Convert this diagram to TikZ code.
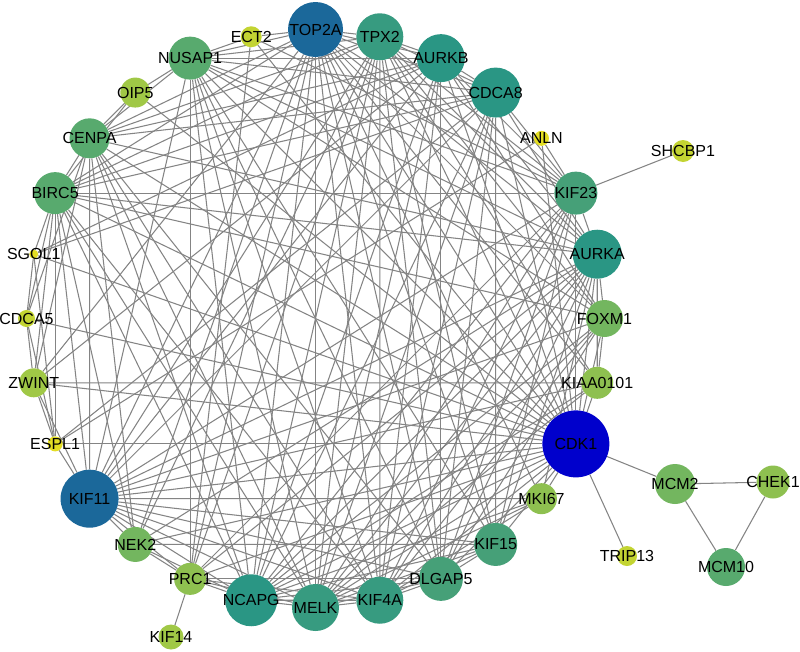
\documentclass[tikz,border=0pt]{standalone}
\usepackage{fontspec}
\setmainfont{Liberation Sans}
\usetikzlibrary{backgrounds,calc}
\definecolor{cTOP}{RGB}{27,104,154}
\definecolor{cCDK}{RGB}{0,0,204}
\definecolor{cTa}{RGB}{42,150,132}
\definecolor{cTb}{RGB}{55,155,128}
\definecolor{cTc}{RGB}{70,160,120}
\definecolor{cGa}{RGB}{88,170,110}
\definecolor{cGb}{RGB}{115,182,95}
\definecolor{cGc}{RGB}{142,192,80}
\definecolor{cGd}{RGB}{160,200,70}
\definecolor{cYG}{RGB}{195,212,50}
\definecolor{cY}{RGB}{228,222,35}
\definecolor{edgegray}{RGB}{132,132,132}
\begin{document}
\begin{tikzpicture}[x=1pt,y=1pt,
  gn/.style={circle, inner sep=0pt, draw=none},
  lab/.style={inner sep=0pt, text=black, font=\fontsize{16}{18}\selectfont},
  edge/.style={draw=edgegray, line width=1.05pt}]
\useasboundingbox (0,0) rectangle (800,-651);
\coordinate (C) at (315.5,-318.5);
% ring nodes
\foreach \k/\n/\c/\d in {
 0/TOP2A/cTOP/55, 1/TPX2/cTb/47, 2/AURKB/cTa/48, 3/CDCA8/cTa/50,
 4/ANLN/cY/15, 5/KIF23/cTc/43, 6/AURKA/cTa/49, 7/FOXM1/cGb/37,
 8/KIAA0101/cGc/32, 9/CDK1/cCDK/67, 10/MKI67/cGc/31, 11/KIF15/cTc/43,
 12/DLGAP5/cTc/44, 13/KIF4A/cTb/47, 14/MELK/cTb/47, 15/NCAPG/cTa/52,
 16/PRC1/cGc/32, 17/NEK2/cGb/35, 18/KIF11/cTOP/58, 19/ESPL1/cY/15,
 20/ZWINT/cGd/29, 21/CDCA5/cYG/17, 22/SGOL1/cY/9, 23/BIRC5/cGa/42,
 24/CENPA/cGa/40, 25/OIP5/cGd/30, 26/NUSAP1/cGa/43, 27/ECT2/cYG/21}
{
  \node[gn, fill=\c, minimum size=\d pt] (\n) at ($(C)+(90-\k*360/28:289)$) {};
}
% outer nodes
\node[gn, fill=cYG, minimum size=22pt] (SHCBP1) at (683,-151) {};
\node[gn, fill=cGd, minimum size=25pt] (KIF14) at (171,-637) {};
\node[gn, fill=cYG, minimum size=20pt] (TRIP13) at (627,-556) {};
\node[gn, fill=cGb, minimum size=40pt] (MCM2) at (675,-484) {};
\node[gn, fill=cGc, minimum size=33pt] (CHEK1) at (773,-482) {};
\node[gn, fill=cGa, minimum size=38pt] (MCM10) at (726,-567) {};
% labels
\foreach \n in {TOP2A,TPX2,AURKB,CDCA8,ANLN,KIF23,AURKA,FOXM1,KIAA0101,CDK1,
 MKI67,KIF15,DLGAP5,KIF4A,MELK,NCAPG,PRC1,NEK2,KIF11,ESPL1,ZWINT,CDCA5,
 SGOL1,BIRC5,CENPA,OIP5,NUSAP1,ECT2,SHCBP1,KIF14,TRIP13,MCM2,CHEK1,MCM10}
{
  \node[lab] (\n-t) at (\n) {\n};
}
\begin{pgfonlayer}{background}
\fill[white] (0,0) rectangle (800,-651);
\foreach \b in {TPX2,AURKB,CDCA8,KIF23,AURKA,FOXM1,KIAA0101,CDK1,MKI67,KIF15,DLGAP5,KIF4A,MELK,NCAPG,PRC1,NEK2,KIF11,ZWINT,BIRC5,CENPA,NUSAP1,ECT2}
  \draw[edge] (TOP2A) -- (\b);
\foreach \b in {AURKB,CDCA8,KIF23,AURKA,FOXM1,KIAA0101,CDK1,KIF15,DLGAP5,KIF4A,MELK,NCAPG,PRC1,NEK2,KIF11,BIRC5,CENPA,NUSAP1}
  \draw[edge] (TPX2) -- (\b);
\foreach \b in {CDCA8,KIF23,AURKA,FOXM1,CDK1,DLGAP5,KIF4A,MELK,NCAPG,KIF11,ZWINT,SGOL1,BIRC5,CENPA,NUSAP1}
  \draw[edge] (AURKB) -- (\b);
\foreach \b in {KIF23,AURKA,CDK1,KIF15,DLGAP5,KIF4A,MELK,NCAPG,KIF11,ESPL1,SGOL1,BIRC5,CENPA,NUSAP1}
  \draw[edge] (CDCA8) -- (\b);
\foreach \b in {KIF23,CDK1,ESPL1}
  \draw[edge] (ANLN) -- (\b);
\foreach \b in {AURKA,CDK1,KIF15,DLGAP5,KIF4A,MELK,NCAPG,PRC1,KIF11,BIRC5,NUSAP1,SHCBP1,ECT2}
  \draw[edge] (KIF23) -- (\b);
\foreach \b in {FOXM1,KIAA0101,CDK1,MKI67,KIF15,DLGAP5,KIF4A,MELK,NCAPG,PRC1,NEK2,KIF11,BIRC5,CENPA,NUSAP1}
  \draw[edge] (AURKA) -- (\b);
\foreach \b in {KIAA0101,CDK1,DLGAP5,KIF4A,MELK,NCAPG,KIF11,BIRC5,NUSAP1}
  \draw[edge] (FOXM1) -- (\b);
\foreach \b in {CDK1,MELK,NCAPG,KIF11,ZWINT}
  \draw[edge] (KIAA0101) -- (\b);
\foreach \b in {MKI67,KIF15,DLGAP5,KIF4A,MELK,NCAPG,PRC1,NEK2,KIF11,ESPL1,ZWINT,CDCA5,SGOL1,BIRC5,CENPA,OIP5,NUSAP1,ECT2,MCM2,TRIP13}
  \draw[edge] (CDK1) -- (\b);
\foreach \b in {KIF4A,MELK,NCAPG,KIF11}
  \draw[edge] (MKI67) -- (\b);
\foreach \b in {DLGAP5,KIF4A,MELK,NCAPG,NEK2,KIF11,NUSAP1}
  \draw[edge] (KIF15) -- (\b);
\foreach \b in {KIF4A,MELK,NCAPG,PRC1,KIF11,CENPA,NUSAP1}
  \draw[edge] (DLGAP5) -- (\b);
\foreach \b in {MELK,NCAPG,PRC1,KIF11,BIRC5,CENPA,NUSAP1}
  \draw[edge] (KIF4A) -- (\b);
\foreach \b in {NCAPG,PRC1,KIF11,BIRC5,CENPA,NUSAP1}
  \draw[edge] (MELK) -- (\b);
\foreach \b in {PRC1,NEK2,KIF11,BIRC5,CENPA,NUSAP1}
  \draw[edge] (NCAPG) -- (\b);
\foreach \b in {NEK2,KIF11,NUSAP1,ECT2,KIF14}
  \draw[edge] (PRC1) -- (\b);
\foreach \b in {KIF11,BIRC5,CENPA}
  \draw[edge] (NEK2) -- (\b);
\foreach \b in {ESPL1,ZWINT,BIRC5,CENPA,NUSAP1}
  \draw[edge] (KIF11) -- (\b);
\foreach \b in {ZWINT,CDCA5,SGOL1,BIRC5}
  \draw[edge] (ESPL1) -- (\b);
\foreach \b in {CDCA5,BIRC5,CENPA}
  \draw[edge] (ZWINT) -- (\b);
\foreach \b in {SGOL1,BIRC5,CENPA}
  \draw[edge] (CDCA5) -- (\b);
\draw[edge] (SGOL1) -- (BIRC5);
\foreach \b in {CENPA,OIP5}
  \draw[edge] (BIRC5) -- (\b);
\foreach \b in {OIP5,NUSAP1}
  \draw[edge] (CENPA) -- (\b);
\draw[edge] (OIP5) -- (NUSAP1);
\draw[edge] (NUSAP1) -- (ECT2);
\draw[edge] (MCM2) -- (CHEK1);
\draw[edge] (MCM2) -- (MCM10);
\draw[edge] (CHEK1) -- (MCM10);
\end{pgfonlayer}
\end{tikzpicture}
\end{document}
